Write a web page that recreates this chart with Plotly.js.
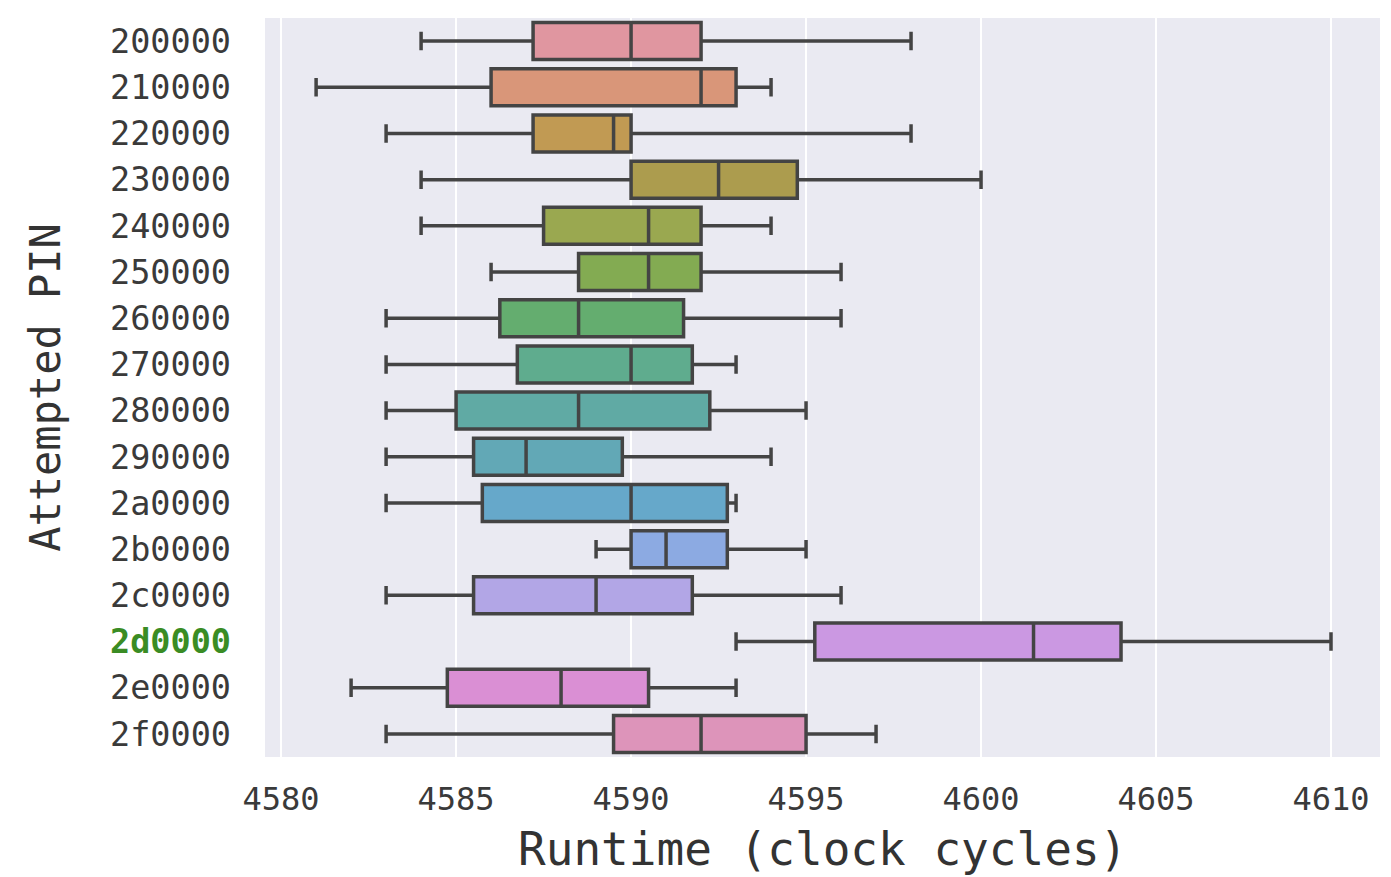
<!DOCTYPE html>
<html>
<head>
<meta charset="utf-8">
<script src="https://cdn.plot.ly/plotly-3.0.1.min.js"></script>
<style>html,body{margin:0;padding:0;background:#fff;}#chart{width:1391px;height:877px;}</style>
</head>
<body>
<div id="chart"></div>
<script>
const pins = ['200000','210000','220000','230000','240000','250000','260000','270000','280000','290000','2a0000','2b0000','2c0000','2d0000','2e0000','2f0000'];
const lowWhisker = [4584, 4581, 4583, 4584, 4584, 4586, 4583, 4583, 4583, 4583, 4583, 4589, 4583, 4593, 4582, 4583];
const q1Values   = [4587.2, 4586, 4587.2, 4590, 4587.5, 4588.5, 4586.25, 4586.75, 4585, 4585.5, 4585.75, 4590, 4585.5, 4595.25, 4584.75, 4589.5];
const medians    = [4590, 4592, 4589.5, 4592.5, 4590.5, 4590.5, 4588.5, 4590, 4588.5, 4587, 4590, 4591, 4589, 4601.5, 4588, 4592];
const q3Values   = [4592, 4593, 4590, 4594.75, 4592, 4592, 4591.5, 4591.75, 4592.25, 4589.75, 4592.75, 4592.75, 4591.75, 4604, 4590.5, 4595];
const highWhisker= [4598, 4594, 4598, 4600, 4594, 4596, 4596, 4593, 4595, 4594, 4593, 4595, 4596, 4610, 4593, 4597];
const highlightPin = '2d0000';
const xTicks = [4580, 4585, 4590, 4595, 4600, 4605, 4610];
const xTitle = 'Runtime (clock cycles)';
const yTitle = 'Attempted PIN';

const boxColors = ['#e096a0','#d99679','#c19a53','#ac9c4e','#9aa850','#83ab52','#64ad6f','#5fac8e','#60aaa4','#62a8b6','#66a8ca','#8caae2','#b2a6e6','#cb98e2','#da8fd4','#dd94ba'];

const traces = pins.map((p, i) => ({
  type: 'box',
  orientation: 'h',
  y: [p],
  q1: [q1Values[i]],
  median: [medians[i]],
  q3: [q3Values[i]],
  lowerfence: [lowWhisker[i]],
  upperfence: [highWhisker[i]],
  fillcolor: boxColors[i],
  line: {color: '#444444', width: 3.5},
  whiskerwidth: 0.5,
  width: 0.8,
  boxpoints: false,
  showlegend: false,
  name: p
}));

const tickText = pins.map(p => p === highlightPin
  ? '<b><span style="color:#3a8c24">' + p + '</span></b>' : p);

const layout = {
  width: 1391, height: 877,
  margin: {l: 265, r: 11, t: 18, b: 120, pad: 0},
  paper_bgcolor: '#ffffff',
  plot_bgcolor: '#eaeaf2',
  font: {family: 'DejaVu Sans Mono, monospace', color: '#333333'},
  boxmode: 'overlay',
  xaxis: {
    range: [4579.54, 4611.4],
    tickvals: xTicks,
    ticktext: xTicks.map(String),
    showgrid: true, gridcolor: '#ffffff', gridwidth: 2,
    zeroline: false, showline: false, ticks: '',
    ticklabelstandoff: 20,
    tickfont: {size: 32, family: 'DejaVu Sans Mono, monospace', color: '#3a3a3a'},
    automargin: false
  },
  yaxis: {
    type: 'category',
    categoryorder: 'array',
    categoryarray: pins,
    tickvals: pins,
    ticktext: tickText,
    range: [15.5, -0.5],
    showgrid: false, zeroline: false, showline: false, ticks: '',
    ticklabelstandoff: 33,
    tickfont: {size: 33.5, family: 'DejaVu Sans Mono, monospace', color: '#3a3a3a'},
    title: {text: yTitle, standoff: 36, font: {size: 42, family: 'DejaVu Sans Mono, monospace', color: '#333333'}},
    automargin: false
  },
  annotations: [{
    text: xTitle, xref: 'paper', yref: 'paper', x: 0.5, y: -0.125,
    xanchor: 'center', yanchor: 'middle', showarrow: false,
    font: {size: 46, family: 'DejaVu Sans Mono, monospace', color: '#333333'}
  }]
};

Plotly.newPlot('chart', traces, layout, {displayModeBar: false, staticPlot: true});
</script>
</body>
</html>
